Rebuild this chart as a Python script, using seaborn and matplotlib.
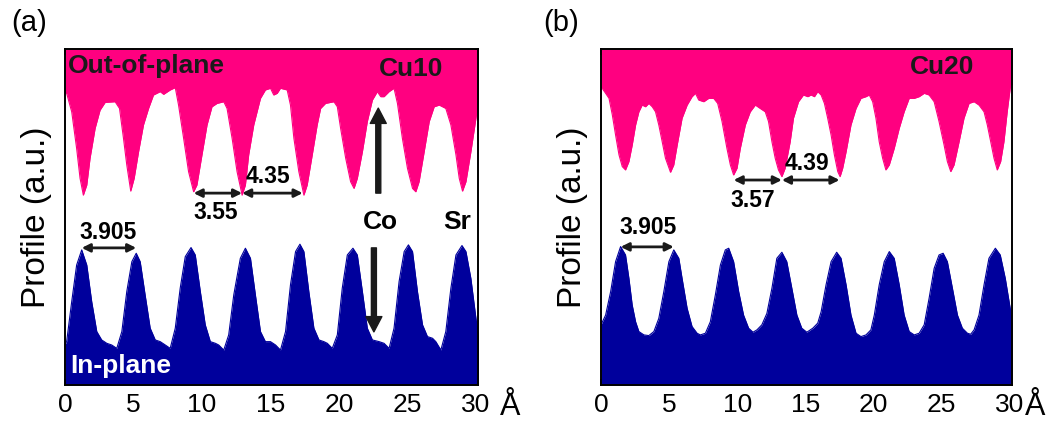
import numpy as np
import seaborn as sns
import matplotlib.pyplot as plt
from matplotlib.ticker import MultipleLocator

# Line profiles (x in Angstrom, y in arbitrary units 0-100)
a_out_x = [0.0, 0.12, 0.49, 0.85, 1.10, 1.34, 1.59, 1.83, 2.20, 2.56, 2.93, 3.66,
           3.98, 4.27, 4.51, 4.80, 5.05, 5.37, 5.73, 6.10, 6.46, 6.95, 7.20, 7.68,
           8.05, 8.29, 8.66, 9.02, 9.39, 9.63, 10.0, 10.37, 10.73, 11.10, 11.59, 11.83,
           12.20, 12.56, 12.93, 13.17, 13.41, 13.78, 14.27, 14.63, 15.0, 15.24, 15.49, 15.73,
           16.22, 16.46, 16.71, 17.07, 17.44, 17.68, 18.05, 18.41, 18.66, 19.02, 19.63, 19.88,
           20.12, 20.49, 20.85, 21.1, 21.34, 21.71, 22.07, 22.44, 22.8, 23.05, 23.29, 23.66,
           24.02, 24.27, 24.63, 25.0, 25.37, 25.61, 25.85, 26.22, 26.59, 26.95, 27.32, 27.8,
           28.17, 28.54, 28.78, 29.02, 29.27, 29.63, 30.0, 30.24]
a_out_y = [87.2, 86.8, 81.3, 70.4, 61.5, 56.5, 59.5, 67.5, 76.4, 81.8, 84.1, 84.3,
           82.3, 73.4, 65.5, 57.7, 61.5, 69.4, 77.4, 82.3, 86.3, 87.3, 86.5, 87.8,
           88.5, 83.3, 73.4, 63.5, 57.5, 59.5, 68.5, 77.4, 82.8, 83.8, 84.3, 82.3,
           73.4, 63.5, 56.5, 59.5, 68.5, 77.4, 85.3, 87.8, 88.3, 86.3, 86.8, 88.3,
           87.8, 83.3, 73.4, 63.5, 56.5, 59.5, 68.5, 77.4, 82.3, 83.8, 84.3, 82.8,
           76.4, 67.5, 60.5, 58.5, 61.5, 69.4, 78.4, 84.8, 87.3, 85.8, 85.8, 87.3,
           88.3, 83.8, 73.4, 64.5, 58.5, 57.5, 60.5, 69.4, 78.4, 82.8, 83.3, 82.3,
           77.4, 68.5, 61.5, 57.7, 60.5, 69.4, 79.4, 86.3]

a_in_x = [0.0, 0.12, 0.49, 0.85, 1.22, 1.59, 1.95, 2.32, 2.68, 3.05, 3.41, 3.78,
          4.15, 4.51, 4.88, 5.2, 5.49, 5.85, 6.22, 6.59, 6.95, 7.32, 7.68, 8.05,
          8.41, 8.78, 9.2, 9.51, 9.88, 10.24, 10.61, 10.98, 11.22, 11.59, 11.95, 12.32,
          12.8, 13.17, 13.54, 13.9, 14.27, 14.63, 15.0, 15.37, 15.73, 16.1, 16.46, 16.83,
          17.15, 17.44, 17.8, 18.17, 18.54, 18.9, 19.15, 19.51, 19.88, 20.24, 20.61, 21.02,
          21.34, 21.71, 22.07, 22.44, 22.93, 23.29, 23.66, 24.02, 24.39, 24.76, 25.07, 25.37,
          25.73, 26.1, 26.46, 26.83, 27.07, 27.44, 27.8, 28.17, 28.54, 28.98, 29.27, 29.63,
          30.0, 30.24]
a_in_y = [12.0, 12.9, 24.8, 35.7, 40.2, 35.7, 24.8, 15.9, 13.4, 12.4, 11.9, 10.9,
          15.9, 27.8, 36.7, 39.2, 36.7, 26.8, 16.9, 13.4, 12.9, 11.9, 10.9, 16.9,
          28.8, 38.2, 40.9, 38.7, 27.8, 17.9, 12.9, 12.4, 11.9, 10.4, 14.9, 26.8,
          37.7, 40.7, 37.7, 26.8, 15.9, 12.9, 12.9, 11.9, 10.4, 15.9, 29.8, 39.7,
          41.9, 39.7, 27.8, 16.9, 13.4, 12.9, 12.4, 10.9, 14.9, 28.8, 38.7, 40.7,
          38.7, 27.8, 16.9, 13.4, 12.9, 12.4, 10.9, 16.9, 30.8, 39.7, 41.7, 39.7,
          27.8, 17.9, 14.4, 13.9, 12.9, 10.4, 15.9, 28.8, 38.7, 41.5, 39.7, 31.7,
          19.8, 12.9]

b_out_x = [0.0, 0.34, 0.59, 0.83, 1.07, 1.32, 1.56, 1.8, 2.05, 2.29, 2.54, 2.78,
           3.02, 3.27, 3.51, 3.76, 4.0, 4.24, 4.49, 4.73, 5.1, 5.34, 5.59, 5.95,
           6.32, 6.68, 6.93, 7.17, 7.54, 7.9, 8.27, 8.56, 8.88, 9.24, 9.49, 9.73,
           9.98, 10.22, 10.59, 10.95, 11.32, 11.68, 12.05, 12.29, 12.54, 12.78, 13.02, 13.27,
           13.51, 13.88, 14.12, 14.49, 14.85, 15.17, 15.41, 15.66, 15.9, 16.15, 16.39, 16.63,
           16.88, 17.12, 17.37, 17.54, 17.73, 17.98, 18.34, 18.71, 19.07, 19.44, 19.68, 19.93,
           20.17, 20.41, 20.66, 20.9, 21.15, 21.51, 21.88, 22.24, 22.61, 22.98, 23.34, 23.71,
           24.07, 24.44, 24.8, 25.17, 25.41, 25.66, 25.9, 26.27, 26.63, 27.0, 27.37, 27.73,
           28.1, 28.34, 28.59, 28.83, 29.07, 29.32, 29.56, 29.8, 30.05, 30.2]
b_out_y = [88.8, 86.8, 85.3, 80.4, 74.4, 68.5, 65.0, 64.0, 66.5, 71.4, 77.4, 81.3,
           83.3, 82.8, 83.8, 82.8, 81.3, 77.4, 72.4, 67.5, 63.3, 65.5, 71.4, 79.4,
           83.3, 85.8, 86.8, 84.8, 84.3, 85.3, 85.3, 83.8, 78.4, 70.4, 65.5, 62.5,
           64.5, 70.4, 77.4, 81.3, 83.3, 82.3, 81.3, 78.4, 72.4, 67.5, 64.0, 62.0,
           64.5, 72.4, 79.4, 84.3, 86.3, 85.8, 86.3, 85.8, 87.3, 86.3, 83.8, 79.4,
           74.4, 68.5, 63.5, 62.0, 64.5, 69.4, 77.4, 82.3, 85.3, 85.8, 86.3, 84.3,
           79.4, 72.4, 67.5, 64.0, 65.5, 70.4, 76.4, 81.3, 85.3, 85.3, 85.8, 86.8,
           86.3, 84.3, 78.4, 71.4, 66.5, 63.5, 65.5, 72.4, 79.4, 83.8, 84.3, 83.3,
           81.3, 77.4, 72.4, 67.5, 64.0, 66.5, 72.4, 81.3, 89.3, 89.5]

b_in_x = [0.0, 0.34, 0.71, 1.07, 1.44, 1.8, 2.05, 2.29, 2.54, 2.78, 3.15, 3.51,
          3.88, 4.24, 4.61, 4.98, 5.34, 5.71, 5.95, 6.32, 6.68, 7.05, 7.29, 7.66,
          8.02, 8.39, 8.76, 9.12, 9.37, 9.73, 10.1, 10.46, 10.83, 11.15, 11.44, 11.8,
          12.17, 12.54, 12.9, 13.27, 13.63, 14.0, 14.37, 14.73, 15.1, 15.54, 15.9, 16.15,
          16.51, 16.88, 17.29, 17.61, 17.98, 18.34, 18.71, 19.07, 19.44, 19.8, 20.05, 20.41,
          20.78, 21.15, 21.51, 21.88, 22.24, 22.61, 22.98, 23.34, 23.71, 24.07, 24.44, 24.8,
          25.1, 25.41, 25.78, 26.15, 26.51, 26.88, 27.12, 27.37, 27.73, 28.1, 28.46, 28.93,
          29.29, 29.66, 30.02, 30.15]
b_in_y = [17.9, 20.8, 27.8, 36.7, 41.2, 38.7, 31.7, 23.8, 18.8, 15.9, 14.9, 14.7,
          15.9, 19.8, 27.8, 36.7, 40.2, 37.7, 31.7, 22.8, 17.4, 15.4, 14.9, 15.4,
          18.8, 26.8, 35.7, 40.2, 40.7, 36.7, 27.8, 20.8, 16.9, 15.7, 16.4, 17.9,
          21.3, 28.8, 37.7, 39.5, 36.7, 28.8, 20.8, 16.9, 15.7, 16.9, 18.4, 21.8,
          29.8, 36.7, 39.5, 37.7, 29.8, 20.8, 15.4, 14.4, 14.9, 16.4, 20.8, 29.8,
          36.7, 39.7, 37.7, 29.8, 20.8, 15.9, 14.9, 15.4, 17.9, 25.8, 34.7, 38.7,
          39.2, 36.7, 28.8, 20.8, 16.9, 15.4, 15.1, 16.4, 20.8, 29.8, 37.7, 40.7,
          38.7, 31.7, 22.8, 18.4]

xticks = [0, 5, 10, 15, 20, 25, 30]

PINK = '#ff0080'
NAVY = '#00009c'

sns.set_theme(style='white')
plt.rcParams['font.family'] = ['Liberation Sans', 'DejaVu Sans']
plt.rcParams['text.color'] = 'black'
plt.rcParams['axes.labelcolor'] = 'black'
plt.rcParams['xtick.color'] = 'black'

fig = plt.figure(figsize=(10.62, 4.30), dpi=100)
ax_a = fig.add_axes([0.0612, 0.1047, 0.3889, 0.7814])
ax_b = fig.add_axes([0.5659, 0.1047, 0.3870, 0.7814])


def dbl_arrow(ax, x1, x2, y):
    ax.annotate('', xy=(x2, y), xytext=(x1, y),
                arrowprops=dict(arrowstyle='<|-|>', color='k', lw=2,
                                mutation_scale=12, shrinkA=0, shrinkB=0))


def thick_arrow(ax, x, y0, y1):
    ax.annotate('', xy=(x, y1), xytext=(x, y0),
                arrowprops=dict(width=3.6, headwidth=11.5, headlength=11,
                                color='k', shrink=0))


def draw_panel(ax, out_x, out_y, in_x, in_y, a_lab):
    ax.fill_between(out_x, out_y, 100, color=PINK, lw=0)
    ax.fill_between(in_x, 0, in_y, color=NAVY, lw=0)
    sns.lineplot(x=out_x, y=out_y, ax=ax, color=PINK, lw=0.8,
                 sort=False, estimator=None)
    sns.lineplot(x=in_x, y=in_y, ax=ax, color=NAVY, lw=0.8,
                 sort=False, estimator=None)
    ax.set_xlim(0, 30.15)
    ax.set_ylim(0, 100)
    ax.set_xticks(xticks)
    ax.xaxis.set_minor_locator(MultipleLocator(2.5))
    ax.set_yticks([])
    ax.tick_params(axis='x', which='both', direction='in', top=True,
                   bottom=True, length=4, width=1.2, color='black',
                   labelcolor='black', labelsize=19, pad=6)
    for s in ax.spines.values():
        s.set_linewidth(1.4)
        s.set_color('black')
    ax.set_ylabel('Profile (a.u.)', fontsize=24, labelpad=9, color='black')
    ax.text(a_lab, -0.065, 'Å', transform=ax.transAxes, fontsize=22,
            ha='center', va='center')


draw_panel(ax_a, a_out_x, a_out_y, a_in_x, a_in_y, 1.077)
draw_panel(ax_b, b_out_x, b_out_y, b_in_x, b_in_y, 1.056)

bold = dict(fontweight='bold', fontsize=19)

# panel (a) annotations
ax_a.text(0.007, 0.95, 'Out-of-plane', transform=ax_a.transAxes,
          ha='left', va='center', color='k', **bold)
ax_a.text(0.915, 0.94, 'Cu10', transform=ax_a.transAxes,
          ha='right', va='center', color='k', **bold)
ax_a.text(0.012, 0.057, 'In-plane', transform=ax_a.transAxes,
          ha='left', va='center', color='white', **bold)
dbl_arrow(ax_a, 9.39, 12.93, 57.1)
ax_a.text(11.0, 51.2, '3.55', ha='center', va='center', fontsize=16.5,
          fontweight='bold')
dbl_arrow(ax_a, 12.93, 17.35, 57.1)
ax_a.text(14.8, 61.9, '4.35', ha='center', va='center', fontsize=16.5,
          fontweight='bold')
dbl_arrow(ax_a, 1.22, 5.2, 40.8)
ax_a.text(3.15, 45.4, '3.905', ha='center', va='center', fontsize=16.5,
          fontweight='bold')
thick_arrow(ax_a, 22.87, 57.1, 82.4)
thick_arrow(ax_a, 22.55, 40.8, 15.8)
ax_a.text(23.0, 48.5, 'Co', ha='center', va='center', **bold)
ax_a.text(28.6, 48.5, 'Sr', ha='center', va='center', **bold)

# panel (b) annotations
ax_b.text(0.907, 0.945, 'Cu20', transform=ax_b.transAxes,
          ha='right', va='center', color='k', **bold)
dbl_arrow(ax_b, 9.73, 13.27, 61.0)
ax_b.text(11.15, 55.0, '3.57', ha='center', va='center', fontsize=16.5,
          fontweight='bold')
dbl_arrow(ax_b, 13.27, 17.5, 61.0)
ax_b.text(15.1, 65.8, '4.39', ha='center', va='center', fontsize=16.5,
          fontweight='bold')
dbl_arrow(ax_b, 1.44, 5.34, 41.1)
ax_b.text(3.47, 46.9, '3.905', ha='center', va='center', fontsize=16.5,
          fontweight='bold')

fig.text(0.027, 0.946, '(a)', fontsize=21, ha='center', va='center')
fig.text(0.528, 0.946, '(b)', fontsize=21, ha='center', va='center')

fig.savefig('out.png', dpi=100)
